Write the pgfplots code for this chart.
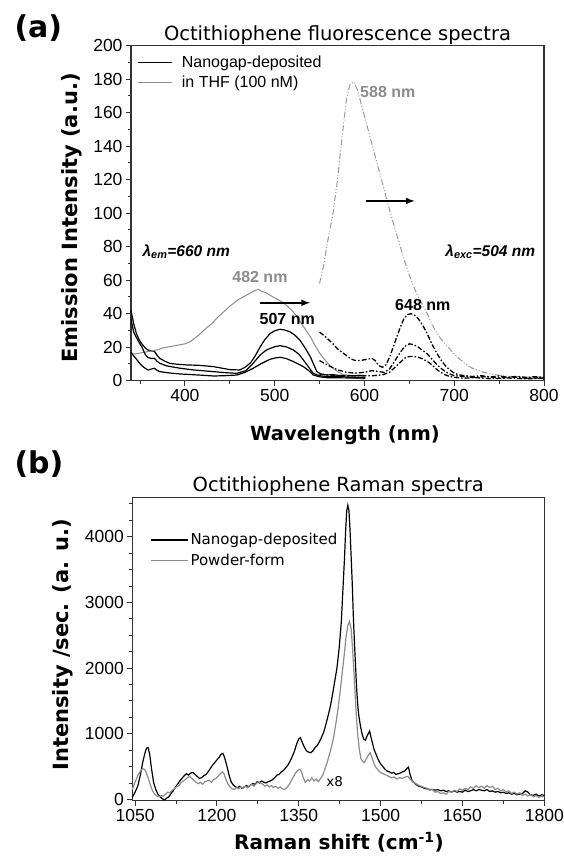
\documentclass[border=0pt]{standalone}
\usepackage{pgfplots}
\pgfplotsset{compat=1.18}
\usepackage{fontspec}
\setmainfont{Liberation Sans}
\newfontfamily\dejavu{DejaVu Sans}
\definecolor{axcol}{gray}{0.2}
\definecolor{thf}{gray}{0.55}
\definecolor{thfexc}{gray}{0.6}
\begin{document}
\begin{tikzpicture}
\useasboundingbox (0,0) rectangle (563pt,864pt);
\pgfplotsset{
  mystyle/.style={
    scale only axis, clip=false,
    axis line style={axcol, line width=1.1pt},
    tick style={axcol, line width=0.9pt},
    tick align=outside, xtick pos=bottom, ytick pos=left,
    major tick length=5pt, minor tick length=3pt,
    /pgf/number format/assume math mode=true,
    /pgf/number format/1000 sep={},
    tick label style={font=\fontsize{17.5}{17.5}\selectfont},
    legend cell align=left,
    legend style={draw=none, fill=none},
  }
}
% ---------------- panel (a) ----------------
\begin{axis}[mystyle,
  at={(131pt,483.3pt)}, anchor=south west, width=413pt, height=335pt,
  xmin=340, xmax=800, ymin=0, ymax=200,
  xtick={400,500,600,700,800}, minor xtick={350,450,550,650,750},
  ytick={0,20,...,200}, minor ytick={10,30,...,190},
  legend style={at={(rel axis cs:0.008,0.982)}, anchor=north west, row sep=3pt, font=\fontsize{16}{16}\selectfont},
  legend image code/.code={\draw[#1, line width=1.6pt] (0pt,0pt) -- (34pt,0pt); \path (41pt,0pt);},
]
% emission, nanogap (black solid)
\addplot[black, line width=1.2pt] coordinates {
(340,42) (343,34) (346,28.2) (349,24.5) (352,22) (356,19.5) (359,18.3) (362,17.8) (366,17.6) (369,15.2) (372,13.4) (377,11.8) (383,10.4) (390,9.9) (402,9.4) (415,9.2) (432,8.4) (442,7.4) (450,6.6) (461,6.4) (467,8) (473,10.6) (478,14.5) (484,20.3) (489,24.5) (495,28.2) (500,29.8) (506,30.7) (511,30.3) (517,29.2) (523,27) (528,24.3) (534,19.5) (540,14) (544,9) (547,5.4) (552,3.8) (558,3.4) (565,3.6) (572,3.1) (580,3.2) (588,2.9) (595,3.2) (601,3)};
\addlegendentry{Nanogap-deposited}
\addplot[thf, line width=1pt] coordinates {
(340,16) (345,16) (350,16.5) (355,17) (360,17.5) (365,18) (370,18.5) (375,19.5) (380,20) (385,20.5) (390,21) (395,21.5) (400,22) (405,23) (410,25) (415,27) (420,29.5) (425,32) (430,34) (435,37) (440,39.5) (445,42) (450,44.5) (455,46.5) (460,48.5) (465,50) (470,51.5) (475,53) (479,54) (482,54.5) (485,53.5) (490,52.5) (495,51) (500,49.5) (505,48) (510,46.5) (515,44) (520,41.5) (525,38) (530,34) (535,30) (540,26) (545,21) (550,16.5) (555,13) (560,10) (565,7.5) (570,5.5) (575,4) (580,3) (585,2) (590,1.5) (595,1.2) (600,1)};
\addlegendentry{in THF (100 nM)}
\addplot[black, line width=1.2pt, forget plot] coordinates {
(340,36.7) (343,29) (346,25.8) (349,22.8) (352,20.3) (356,15.5) (359,13.8) (363,13.2) (366,13.4) (369,11.6) (372,10.4) (380,8.8) (395,7.4) (410,6.4) (432,5.4) (445,4.8) (458,4.4) (468,6) (476,10.4) (484,15.4) (490,18) (495,19.3) (501,20.4) (506,20.9) (513,20.2) (521,18.3) (527,15.8) (532,12.4) (538,8) (543,4.4) (550,3) (558,2.4) (570,2.5) (585,2.1) (601,2)};
\addplot[black, line width=1.2pt, forget plot] coordinates {
(340,17) (343,14.8) (346,12.9) (349,10.8) (352,9) (356,7.3) (359,6.4) (363,7) (366,7.4) (369,6.2) (372,5.4) (383,4.6) (395,4) (415,3.4) (432,2.8) (445,3) (458,3.4) (468,5.2) (476,7.4) (485,10.2) (495,12.8) (501,13.6) (506,14) (513,13.2) (521,11.4) (527,9.8) (532,8.4) (538,6) (543,3.4) (550,2.3) (558,1.8) (575,1.7) (601,1.5)};
% excitation, THF (gray dash-dot-dot)
\addplot[thfexc, line width=1pt, dash pattern=on 6pt off 2pt on 1pt off 2pt on 1pt off 2pt, forget plot] coordinates {
(550,58) (555,70) (560,86) (565,100) (570,120) (575,145) (580,168) (584,177) (588,178.5) (592,174) (596,166) (600,158) (605,148) (610,138) (615,128) (620,118) (626,106) (630,98) (635,89) (640,80) (645,71) (650,63) (655,56) (660,50) (665,45) (670,40) (675,34) (680,29) (685,25) (690,22) (695,19) (700,16) (705,13.5) (710,11) (715,9) (720,7.5) (730,5.5) (740,4) (750,3.2) (760,2.6) (780,2.2) (800,2)};
% excitation, nanogap (black dash-dot)
\addplot[black, line width=1.3pt, dash pattern=on 5pt off 2pt on 1.5pt off 2pt, forget plot] coordinates {
(550,29) (555,27) (560,24.5) (565,22) (570,19) (575,17) (580,15) (585,13) (590,12) (595,12) (600,12.5) (605,13) (608,13.5) (612,12) (616,9) (620,8) (624,9.5) (628,14) (632,20) (636,26) (640,32) (644,37) (648,39.5) (652,40) (656,39) (660,37) (665,33) (670,28) (675,22) (680,17) (685,12.5) (690,9) (695,6.5) (700,4.5) (705,3.5) (712,3) (720,2.5) (730,3) (740,2.2) (750,2.8) (760,2) (770,2.6) (780,1.9) (790,2.4) (800,2)};
\addplot[black, line width=1.3pt, dash pattern=on 5pt off 2pt on 1.5pt off 2pt, forget plot] coordinates {
(550,12) (560,9) (570,6.5) (580,5) (590,4.5) (600,5) (608,6) (615,5.5) (622,5) (628,7) (634,12) (640,17) (645,20.5) (650,22) (655,21.5) (660,20) (665,18) (670,16) (675,13) (680,10) (685,7.5) (690,5.5) (695,4) (700,3) (710,2.5) (720,2) (735,2.4) (750,1.6) (765,2.2) (780,1.5) (800,1.8)};
\addplot[black, line width=1.3pt, dash pattern=on 5pt off 2pt on 1.5pt off 2pt, forget plot] coordinates {
(550,4) (560,3.5) (570,3) (580,3) (590,3) (600,3) (610,3) (620,3.5) (628,5) (634,8) (640,11) (645,13.5) (650,14.5) (655,14.5) (660,14) (665,13) (670,11.5) (675,9.5) (680,7) (685,5) (690,3.5) (695,2.5) (700,2) (710,1.5) (725,1.8) (740,1.2) (760,1.6) (780,1.1) (800,1.4)};
% arrows and annotations
\draw[black, line width=2pt, -latex] (axis cs:483.7,46.5) -- (axis cs:539.5,46.5);
\draw[black, line width=2pt, -latex] (axis cs:601.6,107.3) -- (axis cs:656,107.3);
\node[anchor=base west, font=\bfseries\itshape\fontsize{15.5}{15.5}\selectfont] at (axis cs:349,74) {λ\textsubscript{em}=660 nm};
\node[anchor=base east, font=\bfseries\itshape\fontsize{15.5}{15.5}\selectfont] at (axis cs:794,74) {λ\textsubscript{exc}=504 nm};
\node[anchor=base, text=thf, font=\bfseries\fontsize{16}{16}\selectfont] at (axis cs:483.6,58.6) {482 nm};
\node[anchor=base, font=\bfseries\fontsize{16}{16}\selectfont] at (axis cs:514,33.4) {507 nm};
\node[anchor=base, text=thf, font=\bfseries\fontsize{16}{16}\selectfont] at (axis cs:626,169) {588 nm};
\node[anchor=base, font=\bfseries\fontsize{16}{16}\selectfont] at (axis cs:665,42) {648 nm};
\node[anchor=base, font=\dejavu\fontsize{19.5}{19.5}\selectfont] at ([yshift=5.5pt]rel axis cs:0.5,1) {Octithiophene fluorescence spectra};
\end{axis}
% ---------------- panel (b) ----------------
\begin{axis}[mystyle,
  at={(132.3pt,63.3pt)}, anchor=south west, width=412pt, height=303.4pt,
  xmin=1045, xmax=1800, ymin=-20, ymax=4600,
  xtick={1050,1200,1350,1500,1650,1800}, minor xtick={1125,1275,1425,1575,1725},
  ytick={0,1000,2000,3000,4000}, minor ytick={250,500,750,1250,1500,1750,2250,2500,2750,3250,3500,3750,4250,4500},
  legend style={at={(rel axis cs:0.035,0.895)}, anchor=north west, row sep=4pt, font=\dejavu\fontsize{15}{15}\selectfont},
  legend image code/.code={\draw[#1, line width=1.6pt] (0pt,0pt) -- (37pt,0pt);},
]
\addplot[black, line width=1.2pt] coordinates {
(1045,30) (1050,110) (1055,200) (1060,380) (1064,560) (1068,700) (1071,780) (1074,790) (1077,680) (1080,480) (1084,260) (1088,150) (1092,80) (1096,40) (1100,10) (1104,-10) (1108,20) (1112,40) (1116,90) (1120,130) (1124,190) (1128,230) (1132,280) (1136,320) (1140,360) (1144,390) (1148,370) (1152,400) (1156,410) (1160,380) (1164,350) (1168,320) (1172,330) (1176,360) (1180,380) (1184,420) (1188,470) (1192,520) (1196,560) (1200,600) (1204,640) (1208,690) (1211,700) (1214,640) (1218,520) (1222,380) (1226,270) (1230,220) (1234,190) (1238,180) (1242,200) (1246,170) (1250,190) (1254,210) (1258,190) (1262,220) (1266,240) (1270,230) (1274,270) (1278,250) (1282,280) (1286,260) (1290,250) (1294,270) (1298,280) (1302,300) (1306,330) (1310,370) (1314,380) (1318,420) (1322,440) (1326,480) (1330,520) (1334,580) (1338,650) (1342,730) (1346,840) (1350,920) (1353,940) (1356,880) (1360,800) (1364,740) (1368,720) (1372,710) (1376,740) (1380,790) (1384,820) (1388,880) (1392,950) (1396,1030) (1400,1150) (1404,1280) (1408,1420) (1412,1600) (1416,1800) (1420,2000) (1424,2300) (1428,2700) (1431,3200) (1434,3700) (1436,4100) (1438,4400) (1440,4480) (1442,4400) (1444,4100) (1446,3700) (1448,3300) (1450,2800) (1452,2400) (1454,2050) (1456,1700) (1458,1450) (1460,1280) (1463,1120) (1466,1000) (1469,920) (1472,900) (1475,960) (1478,1010) (1480,1040) (1482,960) (1485,860) (1488,760) (1492,680) (1496,600) (1500,540) (1504,500) (1508,460) (1512,430) (1516,420) (1520,400) (1524,410) (1528,380) (1532,390) (1536,400) (1540,420) (1544,430) (1548,470) (1551,490) (1554,380) (1558,280) (1562,250) (1566,220) (1570,200) (1575,190) (1580,170) (1585,160) (1590,150) (1595,150) (1600,140) (1605,150) (1610,130) (1615,140) (1620,120) (1625,130) (1630,110) (1635,130) (1640,110) (1645,120) (1650,110) (1655,140) (1660,120) (1665,130) (1670,150) (1675,130) (1680,150) (1685,140) (1690,130) (1695,150) (1700,120) (1705,130) (1710,110) (1715,120) (1720,100) (1725,110) (1730,90) (1735,100) (1740,80) (1745,90) (1750,70) (1755,80) (1760,90) (1765,130) (1770,110) (1775,70) (1780,60) (1785,80) (1790,50) (1795,70) (1800,60)};
\addlegendentry{Nanogap-deposited}
\addplot[thf, line width=1.2pt] coordinates {
(1045,150) (1048,220) (1052,300) (1056,380) (1060,430) (1064,470) (1067,460) (1070,420) (1074,330) (1078,220) (1082,130) (1086,80) (1090,50) (1094,40) (1098,60) (1102,50) (1106,80) (1110,110) (1114,100) (1118,140) (1122,160) (1126,190) (1130,210) (1134,250) (1138,280) (1142,300) (1146,330) (1150,350) (1154,320) (1158,290) (1162,260) (1166,240) (1170,260) (1174,230) (1178,270) (1182,280) (1186,290) (1190,260) (1194,300) (1198,320) (1202,350) (1206,390) (1210,420) (1213,390) (1216,320) (1220,240) (1224,190) (1228,160) (1232,150) (1236,180) (1240,160) (1244,190) (1248,170) (1252,200) (1256,180) (1260,210) (1264,230) (1268,200) (1272,240) (1276,270) (1280,250) (1284,230) (1288,200) (1292,220) (1296,190) (1300,210) (1304,180) (1308,200) (1312,170) (1316,190) (1320,160) (1324,150) (1328,180) (1332,220) (1336,280) (1340,340) (1344,400) (1348,440) (1352,460) (1355,420) (1358,340) (1362,260) (1366,300) (1370,280) (1374,330) (1378,280) (1382,310) (1386,270) (1390,320) (1394,370) (1398,460) (1402,560) (1406,680) (1410,800) (1414,950) (1418,1150) (1422,1380) (1426,1650) (1430,1950) (1434,2250) (1437,2500) (1440,2650) (1443,2710) (1446,2600) (1449,2250) (1452,1800) (1455,1350) (1458,1000) (1461,760) (1464,620) (1467,580) (1470,560) (1474,620) (1478,680) (1481,710) (1484,640) (1488,540) (1492,480) (1496,440) (1500,410) (1505,390) (1510,370) (1515,350) (1520,330) (1525,340) (1530,310) (1535,330) (1540,320) (1545,340) (1550,350) (1555,300) (1560,260) (1565,240) (1570,210) (1575,200) (1580,180) (1585,170) (1590,140) (1595,150) (1600,110) (1605,120) (1610,90) (1615,100) (1620,80) (1625,120) (1630,110) (1635,140) (1640,120) (1645,160) (1650,140) (1655,170) (1660,150) (1665,190) (1670,170) (1675,210) (1680,180) (1685,200) (1690,170) (1695,210) (1700,180) (1705,200) (1710,150) (1715,170) (1720,130) (1725,150) (1730,110) (1735,130) (1740,90) (1745,110) (1750,80) (1755,100) (1760,60) (1765,80) (1770,50) (1775,70) (1780,40) (1785,60) (1790,30) (1795,50) (1800,40)};
\addlegendentry{Powder-form}
\node[anchor=base west, font=\dejavu\fontsize{13.5}{13.5}\selectfont] at (axis cs:1394,192) {x8};
\node[anchor=base, font=\dejavu\fontsize{19.5}{19.5}\selectfont] at ([yshift=5.5pt]rel axis cs:0.5,1) {Octithiophene Raman spectra};
\end{axis}
% panel letters and axis labels
\node[anchor=base west, font=\dejavu\bfseries\fontsize{30}{30}\selectfont] at (11pt,826pt) {(a)};
\node[anchor=base west, font=\dejavu\bfseries\fontsize{30}{30}\selectfont] at (11pt,390pt) {(b)};
\node[anchor=base, font=\dejavu\bfseries\fontsize{19.5}{19.5}\selectfont] at (345pt,423.3pt) {Wavelength (nm)};
\node[anchor=base, rotate=90, font=\dejavu\bfseries\fontsize{21}{21}\selectfont] at (77pt,646pt) {Emission Intensity (a.u.)};
\node[anchor=base, font=\dejavu\bfseries\fontsize{20}{20}\selectfont] at (339pt,14pt) {Raman shift (cm\textsuperscript{-1})};
\node[anchor=base, rotate=90, font=\dejavu\bfseries\fontsize{21}{21}\selectfont] at (68pt,219pt) {Intensity /sec. (a. u.)};
\end{tikzpicture}
\end{document}
